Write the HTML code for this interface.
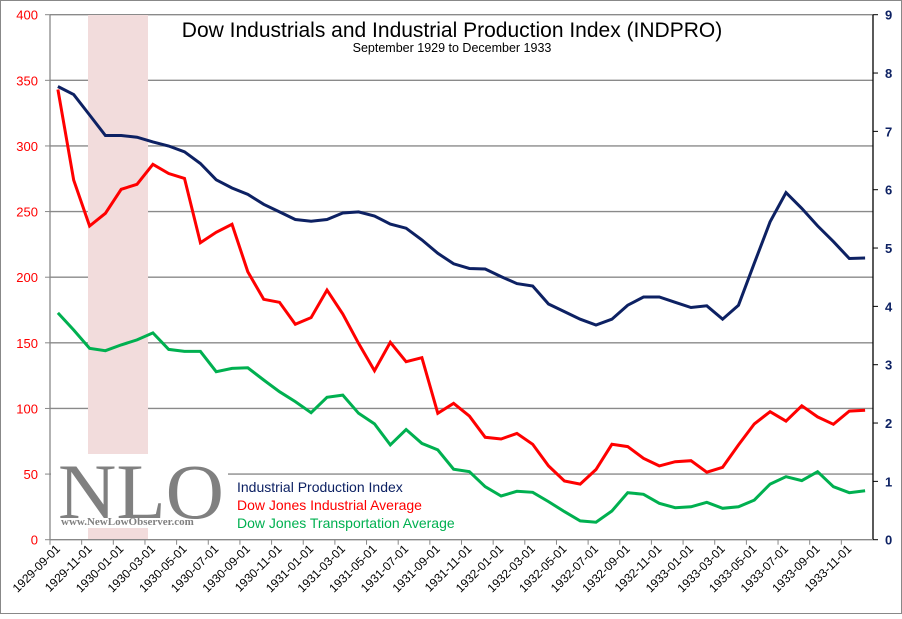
<!DOCTYPE html>
<html><head><meta charset="utf-8"><style>
html,body{margin:0;padding:0;background:#fff}
svg text{font-family:"Liberation Sans",Arial,sans-serif}
</style></head><body>
<svg id="chart" width="902" height="614" xmlns="http://www.w3.org/2000/svg">
<rect x="0.5" y="0.5" width="901" height="613" fill="#fff" stroke="#888"/>
<g id="grid"></g>
<rect x="88" y="15" width="60" height="525" fill="#f2dcdc"/>
<g id="series"></g>
<g>
<rect x="51" y="454" width="177" height="74" fill="#fff"/>
<text x="58" y="518" font-size="78" fill="#808080" textLength="166" lengthAdjust="spacingAndGlyphs" style="font-family:'Liberation Serif',serif">NLO</text>
<text x="61" y="525" font-size="11" font-weight="bold" fill="#808080" style="font-family:'Liberation Serif',serif">www.NewLowObserver.com</text>
</g>
<g id="axes"></g>
<text x="452" y="37" font-size="21" text-anchor="middle" fill="#000">Dow Industrials and Industrial Production Index (INDPRO)</text>
<text x="452" y="52" font-size="12.5" text-anchor="middle" fill="#000">September 1929 to December 1933</text>
<g font-size="14">
<text x="237" y="492" fill="#0d2163">Industrial Production Index</text>
<text x="237" y="510" fill="#ff0000">Dow Jones Industrial Average</text>
<text x="237" y="528" fill="#00b050">Dow Jones Transportation Average</text>
</g>
</svg>
<script>
const startYear = 1929, startMonth = 9, nMonths = 52;
const indpro = [7.77,7.63,7.28,6.93,6.93,6.90,6.82,6.75,6.65,6.45,6.17,6.03,5.92,5.75,5.62,5.49,5.46,5.49,5.60,5.62,5.55,5.41,5.34,5.14,4.91,4.73,4.65,4.64,4.51,4.39,4.35,4.04,3.91,3.78,3.68,3.78,4.02,4.16,4.16,4.07,3.98,4.01,3.78,4.02,4.74,5.45,5.95,5.68,5.38,5.11,4.82,4.83];
const djia = [343,274,239,248.7,267,270.8,286,279,275.3,226.3,234.2,240.3,204.2,183.2,180.9,164.1,169.2,190.2,172,149.6,128.8,150.4,135.6,138.7,96.3,103.9,94.2,78,76.7,81,72.7,56.2,44.7,42.4,53.5,72.7,70.9,62,56.2,59.4,60.2,51.4,55.2,72.2,88.2,97.5,90.4,102,93.6,87.9,98,98.6];
const djta = [172.8,159.8,145.8,144,148.4,152.2,157.6,145,143.5,143.5,128,130.5,131,121.7,112.8,105.2,96.8,108.5,110.2,96.3,88.2,72.2,84,73.4,68.4,53.7,51.8,40.4,33.3,36.9,36.1,29,21.4,14.3,13.3,21.9,35.8,34.6,27.7,24.4,25.1,28.5,23.9,25.1,30.2,42.4,48,45,51.8,40.4,35.8,37.3];
const leftTicks = [0,50,100,150,200,250,300,350,400];
const rightTicks = [0,1,2,3,4,5,6,7,8,9];

const NS='http://www.w3.org/2000/svg';
const X0=50,X1=873,Y0=539.7,Y1=14.7;
const bw=(X1-X0)/nMonths;
function xs(i){return X0+(i+0.5)*bw;}
function yl(v){return Y0-(v/400)*(Y0-Y1);}
function yr(v){return Y0-(v/9)*(Y0-Y1);}
function mk(tag,attrs,parent){const e=document.createElementNS(NS,tag);for(const k in attrs)e.setAttribute(k,attrs[k]);parent.appendChild(e);return e;}
const grid=document.getElementById('grid'),axes=document.getElementById('axes'),series=document.getElementById('series');
leftTicks.forEach(v=>{
  if(v>0){const g=mk('line',{x1:X0,x2:X1,y1:yl(v),y2:yl(v),stroke:'#8a8a8a','stroke-width':1.3},grid);
  
  }
  const t=mk('line',{x1:X0-5,x2:X0,y1:yl(v),y2:yl(v),stroke:'#888'},axes);
  
  
  const l=mk('text',{x:X0-12,y:yl(v)+5,'text-anchor':'end','font-size':13,fill:'#ff0000'},axes);
  l.textContent=v;
  
  
});
rightTicks.forEach(v=>{
  const t=mk('line',{x1:X1,x2:X1+5,y1:yr(v),y2:yr(v),stroke:'#000'},axes);
  
  
  const l=mk('text',{x:X1+12,y:yr(v)+5,'font-size':13,'font-weight':'bold',fill:'#0d2163'},axes);
  l.textContent=v;
  
  
});
const la=mk('line',{x1:X0,x2:X0,y1:Y1,y2:Y0,stroke:'#888','stroke-width':1.3},axes);


const ra=mk('line',{x1:X1,x2:X1,y1:Y1,y2:Y0,stroke:'#000','stroke-width':1.3},axes);


const xa=mk('line',{x1:X0,x2:X1,y1:Y0,y2:Y0,stroke:'#888','stroke-width':1.3},axes);


for(let i=0;i<nMonths;i+=2){
  const tx=X0+i*bw;
  const t=mk('line',{x1:tx,x2:tx,y1:Y0,y2:Y0+5,stroke:'#888'},axes);
  
  
  const m=startMonth-1+i, yr_=startYear+Math.floor(m/12), mo=(m%12)+1;
  const lab=yr_+'-'+String(mo).padStart(2,'0')+'-01';
  const cx=xs(i)+3, cy=Y0+10;
  const l=mk('text',{x:cx,y:cy,'text-anchor':'end','font-size':12,fill:'#000',transform:'rotate(-45 '+cx+' '+cy+')'},axes);
  l.textContent=lab;
  
  
}
function line(arr,yf,color,name){
  const d=arr.map((v,i)=>(i?'L':'M')+xs(i).toFixed(1)+' '+yf(v).toFixed(1)).join(' ');
  const p=mk('path',{d:d,fill:'none',stroke:color,'stroke-width':3,'stroke-linejoin':'miter'},series);
  
  
}
line(djta,yl,'#00b050','djta-line');
line(djia,yl,'#ff0000','djia-line');
line(indpro,yr,'#0d2163','indpro-line');
</script>
</body></html>
